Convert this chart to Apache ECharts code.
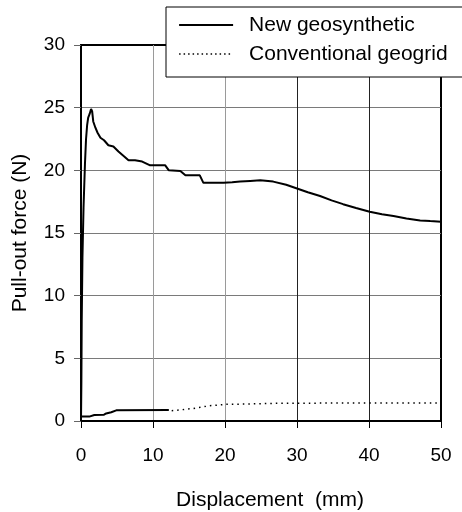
<!DOCTYPE html>
<html>
<head>
<meta charset="utf-8">
<script src="https://cdn.jsdelivr.net/npm/echarts@6/dist/echarts.min.js"></script>
<style>html,body{margin:0;padding:0;background:#fff;}#c{width:462px;height:512px;}</style>
</head>
<body>
<div id="c"></div>
<script>
const xTicks = [0, 10, 20, 30, 40, 50];
const yTicks = [0, 5, 10, 15, 20, 25, 30];

const newX = [0, 0.05, 0.1, 0.2, 0.35, 0.55, 0.7, 0.85, 1.0, 1.2, 1.4, 1.55, 1.7, 2.0, 2.3, 2.7, 3.2, 3.8, 4.5, 5.2, 5.8, 6.6, 7.5, 8.5, 9.6, 11.7, 12.2, 13.8, 14.5, 16.5, 17.0, 18.5, 19.8, 21.0, 22.1, 23.5, 24.9, 26.7, 28.5, 30.0, 31.5, 33.2, 34.8, 36.4, 38.2, 40.1, 41.8, 43.4, 45.2, 47.1, 48.5, 50];
const newY = [0, 3, 8, 13, 17, 20.5, 22.5, 23.6, 24.2, 24.5, 24.9, 24.7, 23.9, 23.4, 23.0, 22.6, 22.4, 22.0, 21.9, 21.5, 21.2, 20.8, 20.8, 20.7, 20.4, 20.4, 20.0, 19.95, 19.6, 19.6, 19.0, 19.0, 19.0, 19.05, 19.1, 19.15, 19.2, 19.1, 18.85, 18.55, 18.25, 17.95, 17.6, 17.3, 17.0, 16.7, 16.5, 16.35, 16.15, 16.0, 15.95, 15.9];

const conStartX = [0, 0.1, 1.15, 1.3, 1.85, 3.2, 3.5, 4.2, 4.9, 12.2];
const conStartY = [0.35, 0.35, 0.35, 0.45, 0.48, 0.5, 0.6, 0.7, 0.85, 0.88];
const conX = [12.6, 14.0, 15.6, 17.9, 20.2, 23.5, 27.2, 30, 35, 40, 45, 50];
const conY = [0.82, 0.9, 1.0, 1.22, 1.33, 1.36, 1.41, 1.42, 1.43, 1.43, 1.43, 1.43];

const zip = (xs, ys) => xs.map((x, i) => [x, ys[i]]);
const FONT = '"Liberation Sans", Arial, sans-serif';

const chart = echarts.init(document.getElementById('c'), null, {renderer: 'canvas'});
chart.setOption({
  animation: false,
  backgroundColor: '#fff',
  grid: {left: 81, right: 21, top: 45, bottom: 91, show: true, borderColor: '#000', borderWidth: 2,
    backgroundColor: 'transparent', outerBoundsMode: 'none', containLabel: false},
  legend: {
    orient: 'vertical', left: 166, top: 7,
    padding: [7, 80, 12, 12],
    backgroundColor: '#fff', borderColor: '#000', borderWidth: 1,
    itemWidth: 54, itemHeight: 14, itemGap: 7,
    itemStyle: {opacity: 0, color: 'transparent', borderWidth: 0},
    textStyle: {fontFamily: FONT, fontSize: 21, color: '#000', lineHeight: 22, padding: [0, 0, 0, 11]},
    data: [
      {name: 'New geosynthetic', lineStyle: {width: 2.2, color: '#000'}},
      {name: 'Conventional geogrid', lineStyle: {width: 1.5, color: '#000', type: [1.5, 3]}}
    ]
  },
  xAxis: {
    type: 'value', min: 0, max: 50, interval: 10,
    name: 'Displacement  (mm)', nameLocation: 'middle', nameGap: 69,
    nameTextStyle: {fontFamily: FONT, fontSize: 21, color: '#000', padding: [0, 0, 0, 18]},
    axisLine: {show: true, onZero: false, lineStyle: {color: '#000', width: 2}},
    axisTick: {show: true, length: 7, lineStyle: {color: '#000'}},
    axisLabel: {fontFamily: FONT, fontSize: 19, color: '#000', margin: 25,
      formatter: v => xTicks.includes(v) ? String(v) : ''},
    splitLine: {show: true, lineStyle: {color: ['#000', '#9a9a9a', '#9a9a9a', '#222', '#222', '#000'], width: 1}}
  },
  yAxis: {
    type: 'value', min: 0, max: 30, interval: 5,
    name: 'Pull-out force (N)', nameLocation: 'middle', nameGap: 50, nameRotate: 90,
    nameTextStyle: {fontFamily: FONT, fontSize: 21, color: '#000'},
    axisLine: {show: true, onZero: false, lineStyle: {color: '#000', width: 2}},
    axisTick: {show: true, length: 7, lineStyle: {color: '#666'}},
    axisLabel: {fontFamily: FONT, fontSize: 19, color: '#000', margin: 16,
      formatter: v => yTicks.includes(v) ? String(v) : ''},
    splitLine: {show: true, lineStyle: {color: ['#000', '#7a7a7a', '#7a7a7a', '#7a7a7a', '#7a7a7a', '#7a7a7a', '#000'], width: 1}}
  },
  series: [
    {
      name: 'New geosynthetic', type: 'line', symbol: 'none', z: 5,
      data: zip(newX, newY),
      lineStyle: {color: '#000', width: 2}, itemStyle: {color: '#000'}
    },
    {
      name: 'Conventional geogrid', type: 'line', symbol: 'none', z: 4,
      data: zip(conX, conY),
      lineStyle: {color: '#000', width: 1.5, type: [1.5, 4]}, itemStyle: {color: '#000'}
    },
    {
      name: 'conv-start', type: 'line', symbol: 'none', z: 4,
      data: zip(conStartX, conStartY),
      lineStyle: {color: '#000', width: 2}, itemStyle: {color: '#000'}
    }
  ]
});
</script>
</body>
</html>
